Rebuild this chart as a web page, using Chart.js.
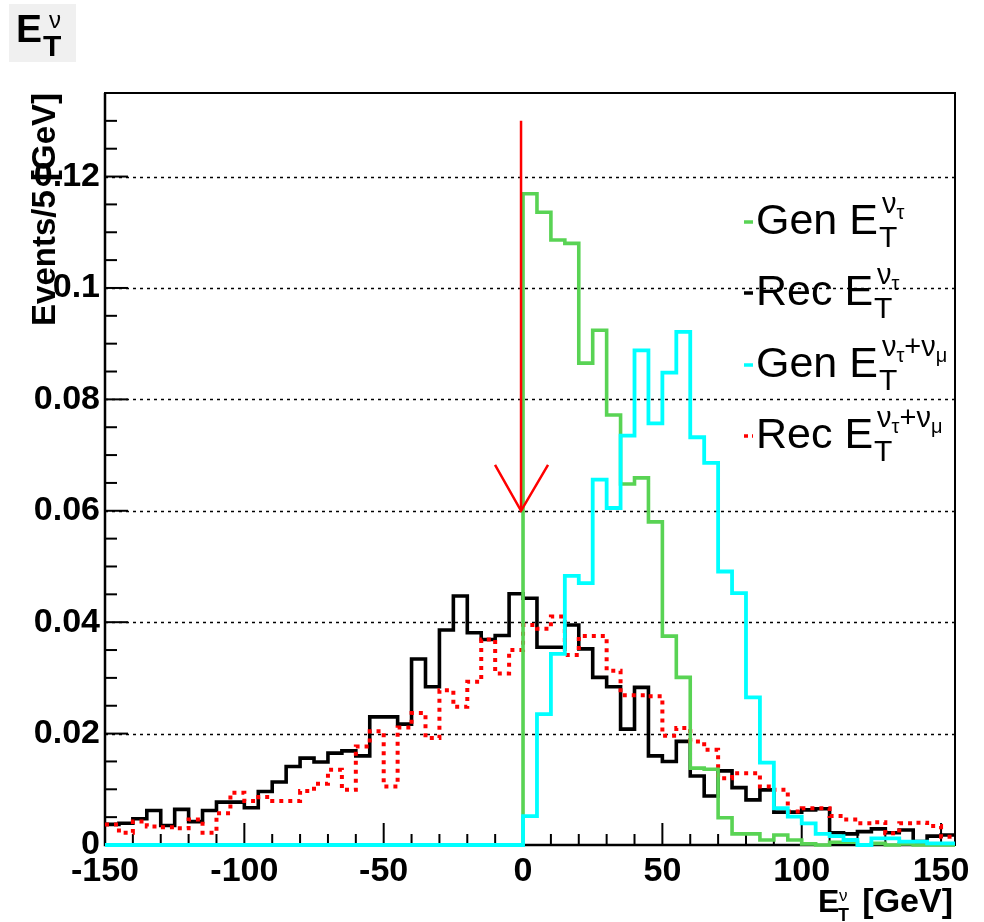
<!DOCTYPE html>
<html>
<head>
<meta charset="utf-8">
<script src="https://cdn.jsdelivr.net/npm/chart.js@4.4.1/dist/chart.umd.min.js"></script>
<style>
html,body{margin:0;padding:0;background:#fff;overflow:hidden}
canvas{display:block}
</style>
</head>
<body>
<canvas id="c" width="984" height="922"></canvas>
<script>
// ---- data (5 GeV bins, lower edges) ----
const binLowEdges = [-150,-145,-140,-135,-130,-125,-120,-115,-110,-105,-100,-95,-90,-85,-80,-75,-70,-65,-60,-55,-50,-45,-40,-35,-30,-25,-20,-15,-10,-5,
  0,5,10,15,20,25,30,35,40,45,50,55,60,65,70,75,80,85,90,95,100,105,110,115,120,125,130,135,140,145,150];
const binUpperLimit = 155;

const genNuTau = [0,0,0,0,0,0,0,0,0,0,0,0,0,0,0,0,0,0,0,0,0,0,0,0,0,0,0,0,0,0,
  0.1169,0.1136,0.1086,0.1080,0.0865,0.0924,0.0772,0.0648,0.0659,0.0580,0.0375,0.0301,0.0138,0.0136,0.0049,0.0020,0.0020,0.0009,0.0018,0.0009,0.0002,0.0000,0.0005,0.0005,0.0000,0.0003,0.0000,0.0002,0.0000,0.0000,0.0000];

const recNuTau = [0.0037,0.0039,0.0047,0.0062,0.0035,0.0064,0.0042,0.0062,0.0077,0.0077,0.0067,0.0096,0.0113,0.0141,0.0156,0.0149,0.0165,0.0169,0.0160,0.0230,0.0230,0.0217,0.0334,0.0284,0.0386,0.0447,0.0381,0.0369,0.0376,0.0451,
  0.0443,0.0355,0.0355,0.0395,0.0352,0.0301,0.0284,0.0208,0.0283,0.0160,0.0150,0.0186,0.0124,0.0088,0.0133,0.0103,0.0081,0.0099,0.0059,0.0059,0.0063,0.0065,0.0022,0.0020,0.0024,0.0029,0.0022,0.0027,0.0006,0.0016,0.0018];

const genNuTauMu = [0,0,0,0,0,0,0,0,0,0,0,0,0,0,0,0,0,0,0,0,0,0,0,0,0,0,0,0,0,0,
  0.0052,0.0235,0.0343,0.0483,0.0470,0.0656,0.0605,0.0735,0.0888,0.0757,0.0848,0.0921,0.0732,0.0686,0.0491,0.0452,0.0265,0.0148,0.0066,0.0051,0.0039,0.0020,0.0016,0.0009,0.0000,0.0012,0.0012,0.0006,0.0006,0.0003,0.0003];

const recNuTauMu = [0.0037,0.0022,0.0042,0.0033,0.0032,0.0030,0.0046,0.0022,0.0057,0.0094,0.0079,0.0086,0.0079,0.0079,0.0097,0.0110,0.0135,0.0099,0.0177,0.0204,0.0105,0.0211,0.0237,0.0192,0.0278,0.0248,0.0293,0.0369,0.0308,0.0350,
  0.0395,0.0388,0.0410,0.0341,0.0375,0.0375,0.0313,0.0269,0.0269,0.0267,0.0196,0.0210,0.0186,0.0171,0.0120,0.0129,0.0129,0.0105,0.0099,0.0060,0.0066,0.0066,0.0052,0.0046,0.0039,0.0041,0.0021,0.0039,0.0040,0.0034,0.0015];

const xTickValues = [-150,-100,-50,0,50,100,150];
const yTickValues = [0,0.02,0.04,0.06,0.08,0.1,0.12];
const yAxisMax = 0.135;

const cutX = 0;
const arrowTopY = 0.130;
const arrowTipY = 0.060;

const legendWords = ['Gen','Rec','Gen','Rec'];
const titleText = 'E';
const yTitle = 'Events/5 [GeV]';
const xTitleUnit = '[GeV]';

// ---- helpers ----
const FONT = '"Liberation Sans", Arial, Helvetica, sans-serif';
function stepPoints(vals){
  const pts = binLowEdges.map((e,i)=>({x:e, y:vals[i]}));
  pts.push({x:binUpperLimit, y:vals[vals.length-1]});
  return pts;
}
function txt(ctx, s, x, y, size, weight, align){
  ctx.font = (weight||'normal') + ' ' + size + 'px ' + FONT;
  ctx.textAlign = align || 'left';
  ctx.textBaseline = 'alphabetic';
  ctx.fillText(s, x, y);
  return ctx.measureText(s).width;
}

const GREEN = '#59d354', CYAN = '#00ffff', RED = '#ff0000', BLACK = '#000000';

const framePlugin = {
  id: 'rootFrame',
  beforeDatasetsDraw(chart){
    const {ctx, chartArea:a, scales:{x, y}} = chart;
    ctx.save();
    // dotted horizontal grid
    ctx.strokeStyle = '#000'; ctx.lineWidth = 1.5; ctx.setLineDash([3,4]);
    yTickValues.forEach(v=>{
      if (v === 0) return;
      const py = Math.round(y.getPixelForValue(v)) + 0.5;
      ctx.beginPath(); ctx.moveTo(a.left, py); ctx.lineTo(a.right, py); ctx.stroke();
    });
    ctx.setLineDash([]);
    // frame
    ctx.lineWidth = 2;
    ctx.strokeRect(a.left, a.top, a.right - a.left, a.bottom - a.top);
    ctx.lineWidth = 2.5;
    ctx.beginPath(); ctx.moveTo(a.left, a.top); ctx.lineTo(a.left, a.bottom); ctx.lineTo(a.right, a.bottom); ctx.stroke();
    // x ticks (inside, every 10, major every 50)
    ctx.lineWidth = 2;
    for (let v = -150; v <= 150; v += 10){
      const px = x.getPixelForValue(v);
      const len = (v % 50 === 0) ? 22 : 11;
      ctx.beginPath(); ctx.moveTo(px, a.bottom); ctx.lineTo(px, a.bottom - len); ctx.stroke();
    }
    // y ticks (inside, every 0.005, major every 0.02)
    for (let i = 0; i <= 27; i++){
      const v = i * 0.005;
      const py = y.getPixelForValue(v);
      const len = (i % 4 === 0) ? 23 : 12;
      ctx.beginPath(); ctx.moveTo(a.left, py); ctx.lineTo(a.left + len, py); ctx.stroke();
    }
    ctx.restore();
  },
  afterDatasetsDraw(chart){
    const {ctx, chartArea:a, scales:{x, y}} = chart;
    ctx.save();
    // cut arrow
    const ax = x.getPixelForValue(cutX) - 2;
    const at = y.getPixelForValue(arrowTopY);
    const ab = y.getPixelForValue(arrowTipY);
    ctx.strokeStyle = RED; ctx.lineWidth = 2.5; ctx.lineCap = 'butt';
    ctx.beginPath(); ctx.moveTo(ax, at); ctx.lineTo(ax, ab); ctx.stroke();
    ctx.beginPath(); ctx.moveTo(ax - 26, ab - 46); ctx.lineTo(ax, ab); ctx.lineTo(ax + 27, ab - 46); ctx.stroke();

    // legend
    const lx = 756;
    const base = [234, 305, 377, 448];
    const cols = [GREEN, BLACK, CYAN, RED];
    const nt = [{t:'ν',s:29,dy:-21},{t:'τ',s:20,dy:-15}];
    const ntm = [{t:'ν',s:29,dy:-21},{t:'τ',s:20,dy:-15},{t:'+',s:29,dy:-21},{t:'ν',s:29,dy:-21},{t:'μ',s:20,dy:-15}];
    const sups = [nt, nt, ntm, ntm];
    for (let i = 0; i < 4; i++){
      const by = base[i];
      ctx.strokeStyle = cols[i]; ctx.lineWidth = 3.5;
      if (i === 3) ctx.setLineDash([4,4]);
      ctx.beginPath(); ctx.moveTo(744, by - 12); ctx.lineTo(753, by - 12); ctx.stroke();
      ctx.setLineDash([]);
      ctx.fillStyle = '#000';
      const w = txt(ctx, legendWords[i] + ' E', lx, by, 43);
      const xe = lx + w;
      txt(ctx, 'T', xe + 1, by + 13, 30);
      let xs = xe + 4;
      sups[i].forEach(p => { xs += txt(ctx, p.t, xs, by + p.dy, p.s); });
    }

    // title box
    ctx.fillStyle = '#f0f0f0';
    ctx.fillRect(9, 4, 67, 58);
    ctx.fillStyle = '#000';
    txt(ctx, titleText, 16, 42, 39, 'bold');
    txt(ctx, 'T', 43, 56, 30, 'bold');
    txt(ctx, 'ν', 49, 28, 24);

    // y title
    ctx.save();
    ctx.translate(55, 93);
    ctx.rotate(-Math.PI/2);
    txt(ctx, yTitle, 0, 0, 33, 'bold', 'right');
    ctx.restore();

    // x title
    txt(ctx, xTitleUnit, 953, 912, 34, 'bold', 'right');
    txt(ctx, 'E', 818, 912, 32, 'bold');
    txt(ctx, 'T', 838, 921, 18, 'bold');
    txt(ctx, 'ν', 839, 901, 17);
    ctx.restore();
  }
};

const common = {pointRadius:0, pointHoverRadius:0, borderWidth:3.6, stepped:true, tension:0, fill:false,
  borderCapStyle:'butt', borderJoinStyle:'miter', clip:false};

new Chart(document.getElementById('c'), {
  type: 'line',
  data: {
    datasets: [
      Object.assign({label:'Gen ET nu_tau+nu_mu', data: stepPoints(genNuTauMu), borderColor: CYAN}, common, {borderWidth:3.8}),
      Object.assign({label:'Gen ET nu_tau', data: stepPoints(genNuTau), borderColor: GREEN}, common),
      Object.assign({label:'Rec ET nu_tau+nu_mu', data: stepPoints(recNuTauMu), borderColor: RED, borderDash:[4,5]}, common, {borderWidth:4}),
      Object.assign({label:'Rec ET nu_tau', data: stepPoints(recNuTau), borderColor: BLACK}, common)
    ]
  },
  options: {
    responsive: false,
    animation: false,
    devicePixelRatio: 1,
    layout: {padding: {left: 0, top: 93, right: 29, bottom: 0}},
    plugins: {legend: {display: false}, tooltip: {enabled: false}, title: {display: false}},
    events: [],
    scales: {
      x: {
        type: 'linear', min: -150, max: binUpperLimit,
        grid: {display: false, drawTicks: false},
        border: {display: false},
        afterBuildTicks: s => { s.ticks = xTickValues.map(v => ({value: v})); },
        afterFit: s => { s.height = 77; },
        ticks: {color: '#000', font: {family: FONT, size: 34, weight: 'bold'}, padding: 6, maxRotation: 0, autoSkip: false,
          callback: v => String(v)}
      },
      y: {
        type: 'linear', min: 0, max: yAxisMax,
        grid: {display: false, drawTicks: false},
        border: {display: false},
        afterBuildTicks: s => { s.ticks = yTickValues.map(v => ({value: v})); },
        afterFit: s => { s.width = 105; },
        ticks: {color: '#000', font: {family: FONT, size: 34, weight: 'bold'}, padding: 5,
          callback: v => String(+Number(v).toFixed(3))}
      }
    }
  },
  plugins: [framePlugin]
});
</script>
</body>
</html>
